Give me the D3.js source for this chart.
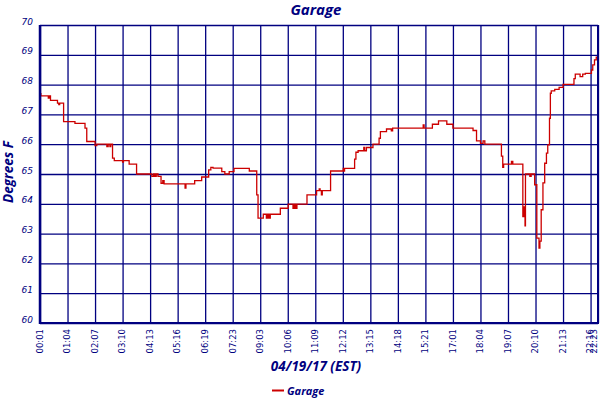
<!DOCTYPE html>
<html><head><meta charset="utf-8">
<script src="https://cdn.jsdelivr.net/npm/d3@7"></script>
<style>
html,body{margin:0;padding:0;background:#fff;}
svg{display:block;}
</style></head>
<body>
<svg id="chart" width="600" height="400"></svg>
<script>
// ---- data (sample index, °F), step series of recorded readings ----
const sampleIdx = [0,2,19,21,24,40,43,45,54,80,103,107,126,130,153,156,160,162,166,170,189,191,204,221,256,260,263,266,270,277,281,284,332,334,354,370,386,391,396,416,423,433,444,479,496,499,511,518,521,524,527,550,568,579,582,585,588,611,633,639,641,644,646,665,694,696,697,720,723,728,741,743,747,762,776,779,793,804,807,877,879,898,912,931,945,991,999,1008,1014,1018,1056,1059,1061,1079,1082,1105,1107,1110,1111,1121,1124,1132,1137,1142,1144,1147,1151,1155,1159,1162,1166,1168,1170,1178,1188,1197,1222,1225,1236,1242,1248,1262,1265,1269,1273,1277];
const tempF = [67.7,67.62,67.55,67.62,67.47,67.38,67.33,67.38,66.76,66.70,66.54,66.09,65.95,66.0,65.92,66.0,65.92,66.0,65.53,65.45,65.40,65.45,65.33,65.0,64.92,65.0,64.92,65.0,64.92,64.69,64.78,64.67,64.53,64.67,64.78,64.9,65.14,65.22,65.2,65.08,65.0,65.08,65.19,65.10,64.3,63.52,63.65,63.52,63.65,63.52,63.65,63.85,63.99,63.85,63.99,63.85,63.99,64.30,64.44,64.5,64.44,64.3,64.44,65.1,65.19,65.1,65.19,65.5,65.73,65.78,65.89,65.78,65.89,66.0,66.2,66.42,66.51,66.45,66.54,66.65,66.54,66.67,66.78,66.67,66.54,66.46,66.11,66.03,66.11,66.0,65.6,65.22,65.33,65.42,65.33,63.57,63.9,63.26,65.0,64.92,65.0,64.64,62.85,62.51,62.75,63.8,64.7,65.36,65.7,65.98,66.87,67.71,67.79,67.84,67.91,68.01,68.2,68.35,68.27,68.35,68.38,68.49,68.66,68.83,68.92,68.96];
const tickIdx = [0,63,126,189,252,315,378,441,504,567,630,693,756,819,882,945,1008,1071,1134,1197,1260,1277];
const tickLabels = ["00:01","01:04","02:07","03:10","04:13","05:16","06:19","07:23","09:03","10:06","11:09","12:12","13:15","14:18","15:21","17:01","18:04","19:07","20:10","21:13","22:16","22:23"];
const yTicks = [60,61,62,63,64,65,66,67,68,69,70];
const titleText = "Garage";
const yTitle = "Degrees F";
const xTitle = "04/19/17 (EST)";
const seriesName = "Garage";

const navy = "#000080", red = "#cc0000";
const svg = d3.select("#chart");
const L = 40, R = 598, T = 25, B = 323;
const x = d3.scaleLinear().domain([0, 1277]).range([L, R]);
const y = d3.scaleLinear().domain([60, 70]).range([B, T]);

// grid via axes
const gx = svg.append("g").attr("transform", `translate(0,${B})`)
  .call(d3.axisBottom(x).tickValues(tickIdx).tickSize(-(B - T)).tickFormat(""));
gx.select(".domain").remove();
gx.selectAll("line").attr("stroke", navy).attr("stroke-width", 1.3);

const gy = svg.append("g").attr("transform", `translate(${L},0)`)
  .call(d3.axisLeft(y).tickValues(yTicks).tickSize(-(R - L)).tickFormat(""));
gy.select(".domain").remove();
gy.selectAll("line").attr("stroke", navy).attr("stroke-width", 1.3);

// data line
const pts = sampleIdx.map((d, i) => [d, tempF[i]]);
svg.append("path").datum(pts)
  .attr("fill", "none").attr("stroke", red).attr("stroke-width", 1.3)
  .attr("d", d3.line().x(d => x(d[0])).y(d => y(d[1])).curve(d3.curveStepAfter));

// frame
svg.append("line").attr("x1", L).attr("x2", L).attr("y1", T).attr("y2", B + 1)
  .attr("stroke", navy).attr("stroke-width", 2.5);
svg.append("line").attr("x1", L).attr("x2", R + 1).attr("y1", B).attr("y2", B)
  .attr("stroke", navy).attr("stroke-width", 2);
svg.append("line").attr("x1", R).attr("x2", R).attr("y1", T).attr("y2", B)
  .attr("stroke", navy).attr("stroke-width", 2);

// y tick labels
svg.append("g").selectAll("text").data(yTicks).join("text")
  .attr("x", 33).attr("y", d => y(d)).attr("dy", "-0.05em")
  .attr("text-anchor", "end")
  .style("font-family", "DejaVu Sans").style("font-style", "italic").style("font-size", "9px")
  .attr("fill", navy).text(d => d);

// x tick labels (keep the last one inside the page)
svg.append("g").selectAll("text").data(tickIdx).join("text")
  .attr("transform", d => `translate(${Math.min(x(d), 594.5)},${B + 6}) rotate(-90)`)
  .attr("text-anchor", "end").attr("dy", "0.33em")
  .style("font-family", "DejaVu Sans").style("font-size", "8.5px")
  .attr("fill", navy).text((d, i) => tickLabels[i]);

// titles
const tf = "'Open Sans', 'Noto Sans', sans-serif";
svg.append("text").attr("x", 316).attr("y", 15).attr("text-anchor", "middle")
  .style("font-family", tf).style("font-weight", "bold").style("font-style", "italic").style("font-size", "15px")
  .attr("fill", navy).text(titleText);
svg.append("text").attr("transform", "translate(13,172) rotate(-90)").attr("text-anchor", "middle")
  .style("font-family", tf).style("font-weight", "bold").style("font-style", "italic").style("font-size", "13.5px")
  .attr("fill", navy).text(yTitle);
svg.append("text").attr("x", 316).attr("y", 371).attr("text-anchor", "middle")
  .style("font-family", tf).style("font-weight", "bold").style("font-style", "italic").style("font-size", "13.5px")
  .attr("fill", navy).text(xTitle);

// legend
svg.append("line").attr("x1", 272).attr("x2", 284).attr("y1", 390.5).attr("y2", 390.5)
  .attr("stroke", red).attr("stroke-width", 2);
svg.append("text").attr("x", 287).attr("y", 394.5)
  .style("font-family", tf).style("font-weight", "bold").style("font-style", "italic").style("font-size", "11px")
  .attr("fill", navy).text(seriesName);
</script>
</body></html>
